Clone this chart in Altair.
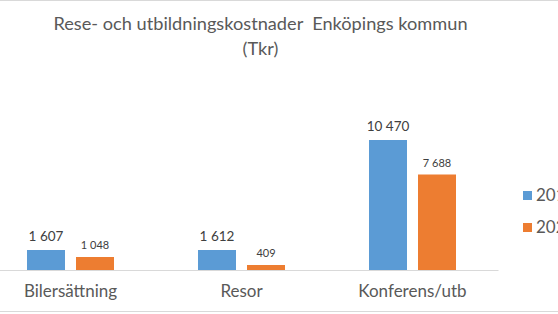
import altair as alt
import pandas as pd

categories = ["Bilersättning", "Resor", "Konferens/utb"]
years = ["2019", "2020"]
v2019 = [1607, 1612, 10470]
v2020 = [1048, 409, 7688]

rows = []
for c, a, b in zip(categories, v2019, v2020):
    rows.append({"kat": c, "year": years[0], "v": a, "lbl": f"{a:,}".replace(",", " ")})
    rows.append({"kat": c, "year": years[1], "v": b, "lbl": f"{b:,}".replace(",", " ")})
df = pd.DataFrame(rows)

FONT = "Lato"
GREY = "#595959"

x = alt.X("kat:N", sort=categories, title=None,
          scale=alt.Scale(paddingInner=0, paddingOuter=0),
          axis=alt.Axis(labelAngle=0, labelFontSize=17, labelColor=GREY, labelFont=FONT,
                        ticks=False, domainColor="#D9D9D9", labelPadding=13))
xo = alt.XOffset("year:N", sort=years,
                 scale=alt.Scale(paddingInner=0.2245, paddingOuter=0.857))
y = alt.Y("v:Q", scale=alt.Scale(domain=[0, 12000], nice=False), axis=None, title=None)

bars = alt.Chart(df).mark_bar().encode(
    x=x, xOffset=xo, y=y,
    color=alt.Color("year:N", sort=years,
                    scale=alt.Scale(domain=years, range=["#5B9BD5", "#ED7D31"]),
                    legend=alt.Legend(title=None, orient="none", legendX=530, legendY=66,
                                      symbolType="square", symbolSize=81, symbolStrokeWidth=0,
                                      symbolOffset=4,
                                      labelFontSize=17, labelColor=GREY, labelFont=FONT,
                                      rowPadding=14, labelOffset=0)),
)

labels = alt.Chart(df).mark_text(baseline="bottom", dy=-6, color="#404040", font=FONT).encode(
    x=x, xOffset=xo, y=y, text="lbl:N",
    size=alt.condition(alt.datum.year == "2019", alt.value(13.5), alt.value(11)),
)

border_top = alt.Chart(df).mark_rule(color="#D9D9D9").encode(
    x=alt.value(-20), x2=alt.value(600), y=alt.value(-120.5))
border_bot = alt.Chart(df).mark_rule(color="#D9D9D9").encode(
    x=alt.value(-20), x2=alt.value(600), y=alt.value(190.5))

chart = alt.layer(bars, labels, border_top, border_bot).properties(
    width=513, height=149,
    autosize=alt.AutoSizeParams(type="none"),
    padding={"left": -15, "right": 60, "top": 121, "bottom": 44},
    title=alt.TitleParams(["Rese- och utbildningskostnader\u00a0 Enköpings kommun", "(Tkr)"],
                          anchor="middle", frame="group", dx=19, offset=0, dy=59,
                          fontSize=18.2, font=FONT, fontWeight="normal", color=GREY,
                          lineHeight=25),
).configure_view(stroke=None)

chart.save("out.html", embed_options={"renderer": "svg", "actions": False})
